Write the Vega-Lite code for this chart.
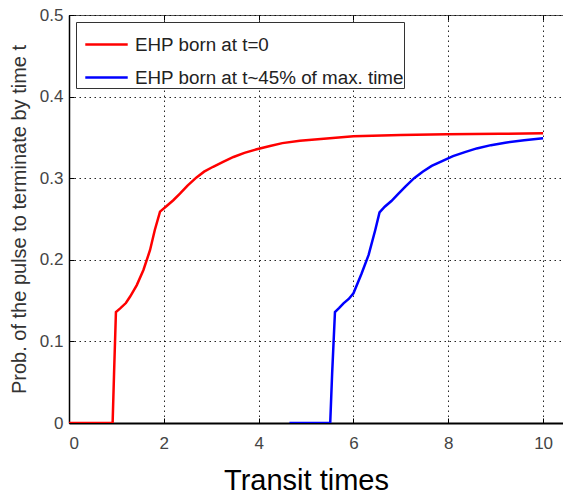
{
  "$schema": "https://vega.github.io/schema/vega-lite/v6.json",
  "autosize": {"type": "none"},
  "padding": {"left": 69, "top": 15, "right": 0, "bottom": 73},
  "width": 494,
  "height": 408,
  "background": "white",
  "config": {
    "font": "Liberation Sans",
    "view": {"stroke": "#555", "strokeWidth": 1},
    "axis": {
      "grid": true,
      "gridColor": "#000",
      "gridDash": [1.5, 3.5],
      "gridOpacity": 0.85,
      "gridWidth": 1,
      "domainColor": "#000",
      "tickColor": "#000",
      "labelColor": "#444",
      "labelFont": "Liberation Sans",
      "labelFontSize": 17,
      "titleFont": "Liberation Sans",
      "titleFontWeight": "normal"
    }
  },
  "data": {
    "values": [
      {"s": "EHP born at t=0", "x": 0, "y": 0},
      {"s": "EHP born at t=0", "x": 0.92, "y": 0},
      {"s": "EHP born at t=0", "x": 0.95, "y": 0.06},
      {"s": "EHP born at t=0", "x": 0.99, "y": 0.136},
      {"s": "EHP born at t=0", "x": 1.08, "y": 0.1405},
      {"s": "EHP born at t=0", "x": 1.2, "y": 0.147},
      {"s": "EHP born at t=0", "x": 1.29, "y": 0.155},
      {"s": "EHP born at t=0", "x": 1.43, "y": 0.169},
      {"s": "EHP born at t=0", "x": 1.57, "y": 0.1875},
      {"s": "EHP born at t=0", "x": 1.71, "y": 0.212},
      {"s": "EHP born at t=0", "x": 1.81, "y": 0.2365},
      {"s": "EHP born at t=0", "x": 1.92, "y": 0.259},
      {"s": "EHP born at t=0", "x": 2.06, "y": 0.266},
      {"s": "EHP born at t=0", "x": 2.2, "y": 0.273},
      {"s": "EHP born at t=0", "x": 2.34, "y": 0.281},
      {"s": "EHP born at t=0", "x": 2.5, "y": 0.291},
      {"s": "EHP born at t=0", "x": 2.69, "y": 0.301},
      {"s": "EHP born at t=0", "x": 2.85, "y": 0.308},
      {"s": "EHP born at t=0", "x": 3.04, "y": 0.314},
      {"s": "EHP born at t=0", "x": 3.25, "y": 0.32},
      {"s": "EHP born at t=0", "x": 3.47, "y": 0.326},
      {"s": "EHP born at t=0", "x": 3.7, "y": 0.331},
      {"s": "EHP born at t=0", "x": 3.96, "y": 0.3355},
      {"s": "EHP born at t=0", "x": 4.24, "y": 0.3395},
      {"s": "EHP born at t=0", "x": 4.5, "y": 0.343},
      {"s": "EHP born at t=0", "x": 4.87, "y": 0.346},
      {"s": "EHP born at t=0", "x": 5.5, "y": 0.349},
      {"s": "EHP born at t=0", "x": 6.0, "y": 0.3515},
      {"s": "EHP born at t=0", "x": 7.0, "y": 0.353},
      {"s": "EHP born at t=0", "x": 7.97, "y": 0.354},
      {"s": "EHP born at t=0", "x": 9.09, "y": 0.3545},
      {"s": "EHP born at t=0", "x": 10, "y": 0.355},
      {"s": "EHP born at t~45% of max. time", "x": 4.65, "y": 0},
      {"s": "EHP born at t~45% of max. time", "x": 5.51, "y": 0},
      {"s": "EHP born at t~45% of max. time", "x": 5.55, "y": 0.06},
      {"s": "EHP born at t~45% of max. time", "x": 5.61, "y": 0.136},
      {"s": "EHP born at t~45% of max. time", "x": 5.7, "y": 0.141},
      {"s": "EHP born at t~45% of max. time", "x": 5.79, "y": 0.1466},
      {"s": "EHP born at t~45% of max. time", "x": 5.9, "y": 0.152},
      {"s": "EHP born at t~45% of max. time", "x": 6.0, "y": 0.159},
      {"s": "EHP born at t~45% of max. time", "x": 6.17, "y": 0.183},
      {"s": "EHP born at t~45% of max. time", "x": 6.32, "y": 0.206},
      {"s": "EHP born at t~45% of max. time", "x": 6.46, "y": 0.2365},
      {"s": "EHP born at t~45% of max. time", "x": 6.55, "y": 0.258},
      {"s": "EHP born at t~45% of max. time", "x": 6.66, "y": 0.265},
      {"s": "EHP born at t~45% of max. time", "x": 6.8, "y": 0.272},
      {"s": "EHP born at t~45% of max. time", "x": 6.95, "y": 0.281},
      {"s": "EHP born at t~45% of max. time", "x": 7.1, "y": 0.29},
      {"s": "EHP born at t~45% of max. time", "x": 7.28, "y": 0.3},
      {"s": "EHP born at t~45% of max. time", "x": 7.46, "y": 0.308},
      {"s": "EHP born at t~45% of max. time", "x": 7.65, "y": 0.315},
      {"s": "EHP born at t~45% of max. time", "x": 7.87, "y": 0.321},
      {"s": "EHP born at t~45% of max. time", "x": 8.1, "y": 0.327},
      {"s": "EHP born at t~45% of max. time", "x": 8.35, "y": 0.332},
      {"s": "EHP born at t~45% of max. time", "x": 8.6, "y": 0.3365},
      {"s": "EHP born at t~45% of max. time", "x": 8.9, "y": 0.3405},
      {"s": "EHP born at t~45% of max. time", "x": 9.2, "y": 0.3435},
      {"s": "EHP born at t~45% of max. time", "x": 9.6, "y": 0.3465},
      {"s": "EHP born at t~45% of max. time", "x": 10, "y": 0.349}
    ]
  },
  "layer": [
    {
      "mark": {"type": "line", "strokeWidth": 2.5, "clip": true},
      "encoding": {
        "x": {
          "field": "x", "type": "quantitative",
          "scale": {"domain": [0, 10.42], "nice": false},
          "axis": {
            "orient": "bottom", "values": [0, 2, 4, 6, 8, 10], "format": "d",
            "tickSize": -5, "labelPadding": 17, "domainWidth": 2,
            "title": "Transit times", "titleFontSize": 29, "titleColor": "#000",
            "titleX": 237, "titleY": 66, "titleBaseline": "alphabetic", "titleAnchor": "middle", "titleAlign": "center"
          }
        },
        "y": {
          "field": "y", "type": "quantitative",
          "scale": {"domain": [0, 0.5], "nice": false},
          "axis": {
            "values": [0, 0.1, 0.2, 0.3, 0.4, 0.5], "format": ".1~f",
            "tickSize": -5, "labelPadding": 11, "domainWidth": 1.5,
            "title": "Prob. of the pulse to terminate by time t", "titleFontSize": 20, "titleColor": "#333",
            "titleX": -50, "titleY": 204, "titleAngle": -90, "titleAlign": "center", "titleBaseline": "middle"
          }
        },
        "color": {
          "field": "s", "type": "nominal",
          "scale": {"domain": ["EHP born at t=0", "EHP born at t~45% of max. time"], "range": ["#ff0000", "#0000ff"]},
          "legend": {
            "title": null, "orient": "none", "legendX": 7, "legendY": 7,
            "symbolType": "stroke", "symbolSize": 1800, "symbolStrokeWidth": 2.5, "symbolOffset": 8,
            "labelFontSize": 18.8, "labelColor": "#222", "labelFont": "Liberation Sans", "labelLimit": 0,
            "fillColor": "white", "strokeColor": "#333", "padding": 0, "rowPadding": -9, "labelOffset": 6
          }
        }
      }
    },
    {
      "mark": {"type": "line", "opacity": 0},
      "encoding": {
        "x": {
          "field": "x", "type": "quantitative",
          "axis": {"orient": "top", "values": [0, 2, 4, 6, 8, 10], "labels": false, "grid": false, "domain": false, "tickSize": -5, "title": null}
        },
        "y": {"field": "y", "type": "quantitative"}
      }
    }
  ],
  "resolve": {"axis": {"x": "independent"}}
}
